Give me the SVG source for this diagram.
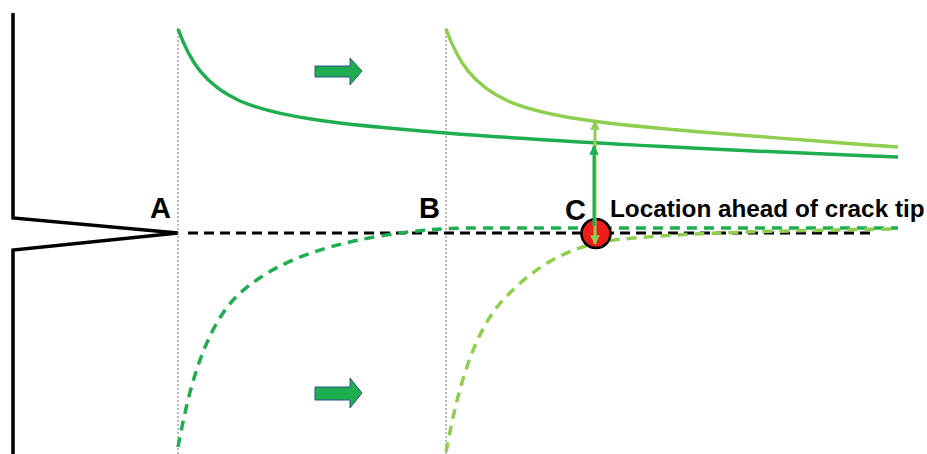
<svg xmlns="http://www.w3.org/2000/svg" width="927" height="454" viewBox="0 0 927 454">
<defs>
<style>
.lbl{font-family:"Liberation Sans",Arial,sans-serif;font-weight:bold;fill:#000}
.guide{stroke:#777;stroke-width:1;stroke-dasharray:2 2;fill:none}
.dk{stroke:#1fae4f;stroke-width:3.5;fill:none}
.lt{stroke:#8fce4f;stroke-width:3.5;fill:none}
.dash{stroke-dasharray:10 7}
.block{fill:#1fae4f;stroke:#2f528f;stroke-width:1}
</style>
<marker id="hLt" viewBox="0 0 10 10" refX="9" refY="5" markerWidth="3.2" markerHeight="3.2" orient="auto-start-reverse"><path d="M0,0 L10,5 L0,10 z" fill="#8fce4f"/></marker>
<marker id="hDk" viewBox="0 0 10 10" refX="9" refY="5" markerWidth="3.2" markerHeight="3.2" orient="auto-start-reverse"><path d="M0,0 L10,5 L0,10 z" fill="#1fae4f"/></marker>
</defs>
<rect width="927" height="454" fill="#fff"/>
<g id="crack">
<path d="M13,13 L13,218 L178,233 L13,250 L13,454" fill="none" stroke="#000" stroke-width="3.5" stroke-linejoin="miter"/>
</g>
<g id="guides">
<line class="guide" x1="178" y1="28" x2="178" y2="454"/>
<line class="guide" x1="446" y1="28" x2="446" y2="454"/>
</g>
<g id="crack-plane">
<line x1="188" y1="233" x2="876" y2="233" stroke="#000" stroke-width="3" stroke-dasharray="10 6"/>
</g>
<g id="curves">
<path class="dk" d="M178,29 C190,62 205,85 240,101 C275,116 330,124 446,133 C560,142 760,152 898,157"/>
<path class="lt" d="M446,29 C458,62 473,85 508,101 C543,116 598,124 714,133 C790,139 850,144 898,147"/>
<path class="dk dash" d="M178,447 C186,405 200,335 235,298 C265,268 310,248 380,236 C420,230 440,228 480,228 L898,228"/>
<path class="lt dash" d="M446,452 C454,410 468,338 503,300 C533,268 560,252 600,242 C650,234 750,231 898,229"/>
</g>
<g id="arrow-top"><path class="block" d="M315,66 L350,66 L350,58 L362,71 L350,85 L350,77 L315,77 Z"/></g>
<g id="arrow-bottom"><path class="block" d="M315,387 L350,387 L350,378 L362,393 L350,408 L350,400 L315,400 Z"/></g>
<g id="point-C">
<circle cx="596" cy="233.5" r="14.5" fill="#ee1c1c" stroke="#000" stroke-width="2.5"/>
</g>
<g id="connectors">
<line x1="595" y1="244" x2="595" y2="121" stroke="#8fce4f" stroke-width="3" marker-start="url(#hLt)" marker-end="url(#hLt)"/>
<line x1="594" y1="226" x2="594" y2="146" stroke="#1fae4f" stroke-width="3" marker-end="url(#hDk)"/>
</g>
<g id="labels">
<text class="lbl" x="150" y="218" font-size="29">A</text>
<text class="lbl" x="419" y="218" font-size="29">B</text>
<text class="lbl" x="565" y="220" font-size="29">C</text>
<text class="lbl" x="610" y="217" font-size="24.3">Location ahead of crack tip</text>
</g>
</svg>
